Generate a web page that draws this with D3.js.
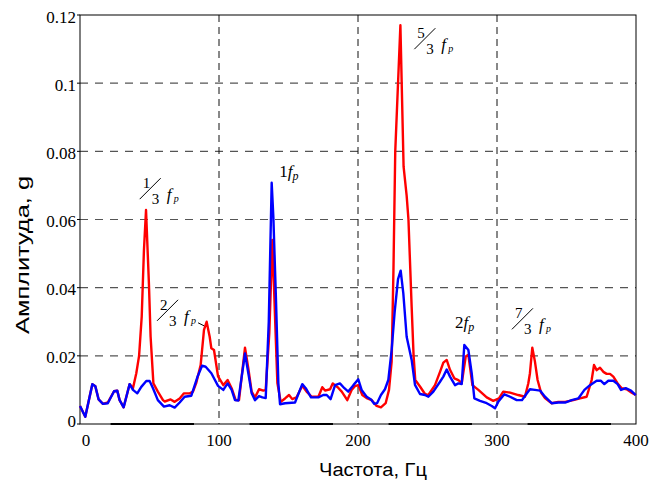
<!DOCTYPE html>
<html><head><meta charset="utf-8">
<script src="https://cdn.jsdelivr.net/npm/d3@7"></script>
<style>body{margin:0;background:#fff}</style>
</head><body><svg id="c" width="649" height="489"></svg>
<script>
const xTicks = [0, 100, 200, 300, 400];
const xTickLabels = ["0", "100", "200", "300", "400"];
const yTicks = [0, 0.02, 0.04, 0.06, 0.08, 0.1, 0.12];
const yTickLabels = ["0", "0.02", "0.04", "0.06", "0.08", "0.1", "0.12"];

// [frequency Hz, amplitude g]
const redSeries = [
[0,0.0053],[3.8,0.0021],[8.9,0.0117],[11,0.0111],[13.4,0.0072],[16.5,0.0059],[20,0.0063],[24.5,0.0096],[26.8,0.0098],[28.5,0.007],[31.4,0.0049],[35.7,0.0117],[38.1,0.0105],[40.5,0.0149],[42.5,0.020],[44.4,0.0315],[46,0.051],[47.5,0.0628],[49.6,0.041],[50.8,0.0256],[52.8,0.0119],[56,0.0095],[59.7,0.007],[61,0.0066],[65.2,0.0072],[68.1,0.0065],[71.7,0.0075],[74.8,0.009],[79,0.009],[81.3,0.0095],[83.6,0.012],[86.8,0.0173],[89.2,0.0276],[91.1,0.030],[93.3,0.0256],[94.5,0.0222],[96.4,0.0217],[99.3,0.0140],[103.1,0.0114],[106.2,0.0129],[109.1,0.0105],[112,0.007],[114.4,0.007],[118.7,0.0224],[121.1,0.0163],[123.5,0.0095],[125.9,0.0078],[128.8,0.0102],[131.9,0.0098],[133.6,0.010],[136.2,0.0267],[138.4,0.054],[140.3,0.0315],[142,0.012],[144.4,0.0065],[147.5,0.0075],[150.4,0.0085],[152.7,0.0073],[155.7,0.0078],[159.9,0.0112],[163,0.0095],[166.7,0.008],[171.5,0.008],[174.3,0.0108],[176.3,0.0098],[179.9,0.0102],[181.8,0.0119],[185.4,0.0108],[188.3,0.0095],[192.3,0.007],[195.4,0.010],[197.8,0.0111],[200.2,0.0114],[203.1,0.0085],[206.2,0.0076],[209.8,0.007],[213.4,0.0053],[216.5,0.0049],[219.9,0.0061],[222.3,0.010],[224.2,0.0183],[225.5,0.045],[226.8,0.08],[228,0.092],[230.5,0.117],[232.8,0.0755],[235,0.067],[236.3,0.060],[238.6,0.0344],[240,0.02],[241.2,0.0129],[244.6,0.011],[248.2,0.0088],[250.6,0.0085],[255.4,0.0114],[259,0.0153],[261.4,0.018],[263.8,0.0188],[266.2,0.0159],[269.3,0.0134],[272.2,0.0129],[274.6,0.0119],[277.5,0.0198],[279.4,0.0203],[282.3,0.0114],[286.6,0.010],[292.6,0.0078],[297.3,0.0068],[301.4,0.0075],[304.5,0.0095],[309.4,0.0092],[315.3,0.0085],[320.1,0.008],[322.5,0.0119],[323.7,0.0149],[325.4,0.0224],[327.3,0.0183],[329.2,0.0129],[331.7,0.0092],[334.5,0.0076],[339.3,0.0061],[344.1,0.0065],[349,0.0065],[354.9,0.007],[359.7,0.0075],[364.5,0.008],[368.1,0.0129],[369.8,0.0173],[371.7,0.0158],[374.1,0.0165],[376.5,0.0153],[378.9,0.0147],[381.3,0.0147],[383.7,0.0139],[386.8,0.0119],[389.7,0.0105],[393.3,0.0102],[396.9,0.0092],[399.8,0.0085]
];
const blueSeries = [
[0,0.0053],[3.8,0.0021],[8.9,0.0117],[11,0.0111],[13.4,0.0072],[16.5,0.0059],[20,0.0061],[24.5,0.0096],[26.8,0.0098],[28.5,0.007],[31.4,0.0049],[35.7,0.0117],[38.1,0.010],[41.2,0.009],[44.1,0.0109],[47.7,0.0126],[50.1,0.0126],[52.5,0.0105],[56,0.007],[60.4,0.0051],[64.5,0.0055],[68.1,0.0048],[71.7,0.0063],[75.3,0.008],[80.1,0.0083],[84.4,0.0137],[87.8,0.0171],[90.4,0.0168],[94.5,0.0149],[99.3,0.0112],[103.1,0.010],[106.2,0.0119],[109.1,0.010],[111.5,0.007],[113.9,0.0069],[118.7,0.0207],[121.1,0.0149],[123.5,0.009],[125.9,0.007],[128.8,0.0082],[131.2,0.0078],[133.6,0.0076],[135.8,0.030],[137.9,0.0708],[139.1,0.0608],[141,0.0364],[142.7,0.012],[143.9,0.0058],[147.5,0.0061],[154.7,0.0063],[159.9,0.0117],[162.4,0.0105],[166.2,0.0078],[171.5,0.0078],[175,0.0085],[177.5,0.0085],[180.3,0.0073],[183.5,0.0114],[187,0.0119],[190.2,0.0105],[193,0.0095],[196.7,0.0114],[200.2,0.0131],[202.6,0.010],[206.2,0.008],[209.4,0.0072],[211.7,0.0059],[213.7,0.0061],[216.5,0.0085],[219.4,0.0102],[221.8,0.0129],[224.2,0.0217],[226.4,0.033],[228.8,0.0425],[230.7,0.045],[232.6,0.0383],[235,0.0256],[238.6,0.0188],[241,0.0115],[244.6,0.0088],[248.2,0.0085],[250.6,0.008],[254.2,0.0095],[259,0.0124],[261.4,0.0139],[263.8,0.016],[266.2,0.0139],[269.8,0.0114],[272.2,0.0119],[274.6,0.0117],[276.5,0.0232],[279.4,0.0217],[281.8,0.0149],[283.7,0.0075],[287.8,0.0068],[292.6,0.0061],[296.2,0.0053],[298.6,0.0046],[300.9,0.0065],[305.3,0.0087],[309.4,0.008],[314.2,0.007],[318,0.007],[320.6,0.0085],[323.7,0.0102],[327.3,0.010],[331,0.0098],[334.5,0.008],[339.3,0.0061],[344.1,0.0063],[349,0.0063],[353.7,0.007],[358.5,0.0075],[362.9,0.010],[366.9,0.0114],[371.7,0.0127],[374.6,0.0127],[377.2,0.0117],[380.1,0.0127],[383.7,0.0127],[386.8,0.0117],[389.2,0.010],[392.6,0.0105],[396.4,0.0098],[399.8,0.0085]
];

// fraction labels: numerator, denominator, anchor [f, v]
const fracLabels = [
  {num:"1", den:"3", at:[45.1, 0.0692]},
  {num:"2", den:"3", at:[57.6, 0.0335], leader:true},
  {num:"5", den:"3", at:[242.7, 0.1132]},
  {num:"7", den:"3", at:[312.9, 0.0310]}
];
const harmLabels = [
  {k:"1", at:[143.4, 0.0726]},
  {k:"2", at:[269.8, 0.0281]}
];

const svg = d3.select("#c");
const M = {l:80, r:636, t:15, b:424};
const x = d3.scaleLinear().domain([0,400]).range([M.l, M.r]);
const y = d3.scaleLinear().domain([0,0.12]).range([M.b, M.t]);

// grid
svg.append("g").selectAll("line").data(yTicks.filter(d => d>0 && d<0.12)).join("line")
  .attr("x1", M.l).attr("x2", M.r).attr("y1", d=>y(d)).attr("y2", d=>y(d))
  .attr("stroke", "#555").attr("stroke-width", 1.2).attr("stroke-dasharray", "8,7");
svg.append("g").selectAll("line").data(xTicks.filter(d => d>0 && d<400)).join("line")
  .attr("y1", M.t).attr("y2", M.b).attr("x1", d=>x(d)).attr("x2", d=>x(d))
  .attr("stroke", "#111").attr("stroke-width", 1).attr("stroke-dasharray", "7,5");

// frame
svg.append("rect").attr("x", M.l).attr("y", M.t).attr("width", M.r-M.l).attr("height", M.b-M.t)
  .attr("fill", "none").attr("stroke", "#000").attr("stroke-width", 1);
// bottom heavy segments
svg.append("g").selectAll("line").data(xTicks.slice(0,4)).join("line")
  .attr("x1", d=>x(d+22)).attr("x2", d=>x(d+82)).attr("y1", M.b).attr("y2", M.b)
  .attr("stroke", "#000").attr("stroke-width", 2);

// y ticks
const yAxis = svg.append("g");
yAxis.selectAll("line").data(yTicks).join("line")
  .attr("x1", M.l-3).attr("x2", M.l).attr("y1", d=>y(d)).attr("y2", d=>y(d)).attr("stroke", "#000");
yAxis.selectAll("text").data(yTicks).join("text")
  .attr("x", M.l-4).attr("y", d=>y(d)).attr("dy", (d,i)=> i===0 ? "0.15em" : "0.45em")
  .attr("text-anchor", "end").attr("font-family", "Liberation Serif, Times New Roman, serif")
  .attr("font-size", 17).text((d,i)=>yTickLabels[i]);
// x labels
svg.append("g").selectAll("text").data(xTicks).join("text")
  .attr("x", (d,i)=> x(d) + (i===0 ? 6 : 0)).attr("y", M.b + 22)
  .attr("text-anchor", "middle").attr("font-family", "Liberation Serif, Times New Roman, serif")
  .attr("font-size", 17).text((d,i)=>xTickLabels[i]);

// axis titles
svg.append("text").attr("transform", `translate(29,255) rotate(-90)`)
  .attr("text-anchor", "middle").attr("font-family", "Liberation Sans, Arial, sans-serif")
  .attr("font-size", 18).attr("textLength", 158).attr("lengthAdjust", "spacingAndGlyphs")
  .text("Амплитуда, g");
svg.append("text").attr("x", 373).attr("y", 476)
  .attr("text-anchor", "middle").attr("font-family", "Liberation Sans, Arial, sans-serif")
  .attr("font-size", 18).attr("textLength", 108).attr("lengthAdjust", "spacingAndGlyphs")
  .text("Частота, Гц");

// lines
const line = d3.line().x(d=>x(d[0])).y(d=>y(d[1]));
const plot = svg.append("g");
plot.append("path").datum(redSeries).attr("d", line).attr("fill","none")
  .attr("stroke", "#ff0000").attr("stroke-width", 2.4).attr("stroke-linejoin","round");
plot.append("path").datum(blueSeries).attr("d", line).attr("fill","none")
  .attr("stroke", "#0000ff").attr("stroke-width", 2.4).attr("stroke-linejoin","round");

// annotations
const serif = "Liberation Serif, Times New Roman, serif";
fracLabels.forEach(a => {
  const g = svg.append("g").attr("transform", `translate(${x(a.at[0])},${y(a.at[1])})`);
  g.append("text").attr("x", 0).attr("y", 0).attr("font-family", serif).attr("font-size", 15).text(a.num);
  g.append("line").attr("x1", -3).attr("y1", 11).attr("x2", 18).attr("y2", -10).attr("stroke", "#000").attr("stroke-width", 1);
  g.append("text").attr("x", 9).attr("y", 16).attr("font-family", serif).attr("font-size", 15).text(a.den);
  g.append("text").attr("x", 24).attr("y", 12).attr("font-family", serif).attr("font-style","italic").attr("font-size", 17).text("f");
  g.append("text").attr("x", 31).attr("y", 14).attr("font-family", serif).attr("font-style","italic").attr("font-size", 10).text("p");
  if (a.leader) g.append("line").attr("x1", 38).attr("y1", 13).attr("x2", 44).attr("y2", 16).attr("stroke", "#000").attr("stroke-width", 1);
});
harmLabels.forEach(a => {
  const t = svg.append("text").attr("x", x(a.at[0])).attr("y", y(a.at[1]))
    .attr("font-family", serif).attr("font-size", 17);
  t.append("tspan").text(a.k);
  t.append("tspan").attr("font-style","italic").text("f");
  t.append("tspan").attr("font-style","italic").attr("font-size", 12).attr("dy", 3).text("p");
});
</script></body></html>
